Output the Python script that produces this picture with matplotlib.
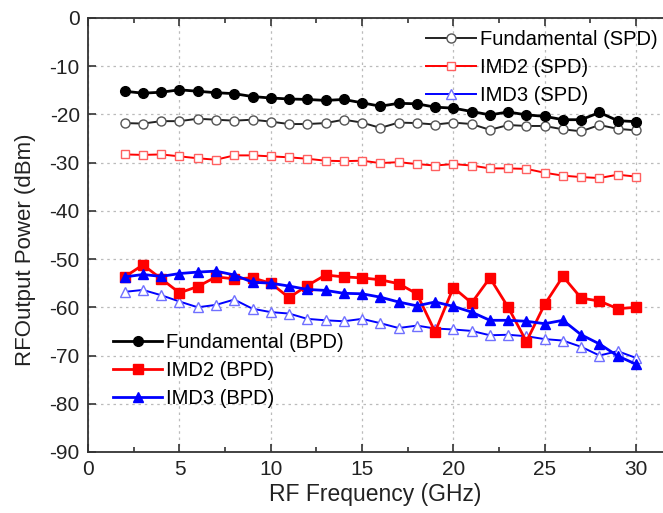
import matplotlib.pyplot as plt
import numpy as np

plt.rcParams['font.family'] = ['Liberation Sans', 'DejaVu Sans']
plt.rcParams['axes.unicode_minus'] = False

freq = np.arange(2, 31)

fund_bpd = [-15.2, -15.6, -15.4, -14.9, -15.2, -15.5, -15.7, -16.3, -16.6, -16.8,
            -16.9, -17.1, -16.9, -17.6, -18.3, -17.7, -17.8, -18.5, -18.7, -19.4,
            -20.1, -19.5, -20.1, -20.4, -21.1, -21.1, -19.6, -21.3, -21.5]
fund_spd = [-21.8, -21.9, -21.4, -21.4, -20.9, -21.1, -21.3, -21.1, -21.5, -22.0,
            -22.0, -21.8, -21.1, -21.7, -22.8, -21.7, -21.8, -22.1, -21.7, -22.0,
            -23.2, -22.2, -22.4, -22.4, -23.1, -23.5, -22.2, -23.0, -23.3]
imd2_spd = [-28.3, -28.4, -28.3, -28.7, -29.1, -29.4, -28.5, -28.5, -28.7, -28.9,
            -29.2, -29.6, -29.7, -29.6, -30.1, -29.9, -30.3, -30.6, -30.3, -30.6,
            -31.2, -31.2, -31.3, -32.1, -32.7, -33.0, -33.2, -32.5, -32.9]
imd2_bpd = [-53.7, -51.2, -54.1, -57.0, -55.7, -53.7, -54.1, -53.9, -55.0, -58.0,
            -55.5, -53.3, -53.7, -53.9, -54.3, -55.1, -57.2, -65.1, -55.9, -59.1,
            -53.9, -60.0, -67.1, -59.4, -53.6, -58.1, -58.7, -60.3, -60.0]
imd3_bpd = [-53.7, -53.2, -53.6, -53.0, -52.7, -52.5, -53.3, -54.8, -55.0, -55.6,
            -56.3, -56.5, -57.1, -57.2, -57.9, -58.9, -59.7, -58.9, -59.8, -61.0,
            -62.7, -62.7, -62.9, -63.4, -62.7, -65.7, -67.6, -70.1, -71.8]
imd3_spd = [-56.8, -56.4, -57.5, -58.8, -60.0, -59.5, -58.4, -60.3, -61.0, -61.3,
            -62.4, -62.7, -62.9, -62.4, -63.3, -64.3, -63.8, -64.4, -64.6, -64.9,
            -65.8, -65.7, -66.0, -66.6, -66.9, -68.2, -70.0, -69.1, -70.5]

fig = plt.figure(figsize=(6.63, 5.13), dpi=100)
ax = fig.add_axes([0.133, 0.119, 0.867, 0.846])

ms = 6.5
# SPD (open markers)
l1, = ax.plot(freq, fund_spd, color='#222222', lw=1.4, marker='o', ms=ms,
              mfc='white', mec='#555555', label='Fundamental (SPD)')
l2, = ax.plot(freq, imd2_spd, color='red', lw=1.4, marker='s', ms=ms - 0.5,
              mfc='white', mec='#ff6060', label='IMD2 (SPD)')
l3, = ax.plot(freq, imd3_spd, color='blue', lw=1.4, marker='^', ms=ms + 0.5,
              mfc='white', mec='#7070ff', label='IMD3 (SPD)')
# BPD (filled markers)
l4, = ax.plot(freq, fund_bpd, color='black', lw=2, marker='o', ms=ms + 0.5,
              label='Fundamental (BPD)')
l5, = ax.plot(freq, imd2_bpd, color='red', lw=2, marker='s', ms=ms,
              label='IMD2 (BPD)')
l6, = ax.plot(freq, imd3_bpd, color='blue', lw=2, marker='^', ms=ms + 0.5,
              label='IMD3 (BPD)')

ax.set_xlim(0, 31.48)
ax.set_ylim(-90, 0)
ax.set_xticks(np.arange(0, 31, 5))
ax.set_xticks(np.arange(0, 31.5, 2.5), minor=True)
ax.set_yticks(np.arange(-90, 1, 10))
ax.tick_params(axis='both', which='both', direction='in', top=True, right=False,
               labelsize=15, width=1.2, color='#333333', labelcolor='#222222')
ax.tick_params(which='major', length=6)
ax.tick_params(which='minor', length=3.5)
ax.tick_params(axis='x', pad=6)
ax.tick_params(axis='y', pad=6)
ax.spines['right'].set_visible(False)
for s in ['left', 'bottom', 'top']:
    ax.spines[s].set_linewidth(1.3)
    ax.spines[s].set_color('#333333')
ax.grid(True, which='major', color='#bbbbbb', linestyle=(0, (2, 3)), lw=0.9)

ax.set_xlabel('RF Frequency (GHz)', fontsize=16.5, labelpad=3, color='#222222')
ax.set_ylabel('RFOutput Power (dBm)', fontsize=16, color='#222222')
ax.yaxis.set_label_coords(-0.09, 0.465)

leg1 = ax.legend(handles=[l1, l2, l3], loc='upper right', frameon=False,
                 bbox_to_anchor=(1.005, 0.99), fontsize=14.5, handlelength=2.5,
                 handletextpad=0.2, labelspacing=0.45, borderaxespad=0)
ax.add_artist(leg1)
ax.legend(handles=[l4, l5, l6], loc='lower left', frameon=False,
          bbox_to_anchor=(0.03, 0.083), fontsize=14.5, handlelength=2.4,
          handletextpad=0.2, labelspacing=0.45, borderaxespad=0)

fig.savefig('out.png', dpi=100)
